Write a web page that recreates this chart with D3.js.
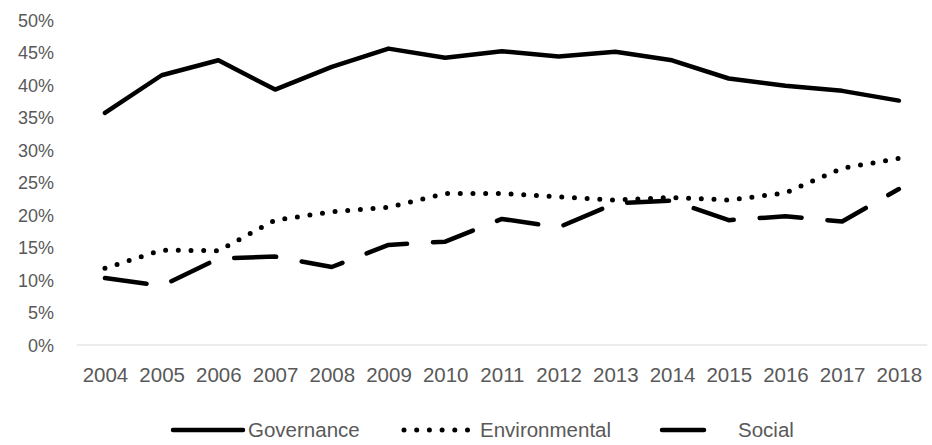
<!DOCTYPE html>
<html>
<head>
<meta charset="utf-8">
<script src="https://cdn.jsdelivr.net/npm/d3@7"></script>
<style>
  html, body { margin: 0; padding: 0; background: #fff; }
  svg { display: block; }
  text { font-family: "Liberation Sans", Arial, sans-serif; fill: #595959; }
</style>
</head>
<body>
<svg id="chart" width="932" height="445"></svg>
<script>
const years = ["2004","2005","2006","2007","2008","2009","2010","2011","2012","2013","2014","2015","2016","2017","2018"];
const governance =    [0.357,0.415,0.438,0.393,0.428,0.456,0.442,0.452,0.444,0.451,0.438,0.410,0.399,0.391,0.376];
const environmental = [0.118,0.146,0.145,0.192,0.205,0.212,0.233,0.233,0.228,0.223,0.227,0.223,0.234,0.272,0.287];
const social =        [0.103,0.091,0.133,0.136,0.120,0.154,0.159,0.194,0.181,0.218,0.222,0.192,0.198,0.190,0.240];
const yTicks = [0,0.05,0.10,0.15,0.20,0.25,0.30,0.35,0.40,0.45,0.50];
const seriesNames = ["Governance","Environmental","Social"];

const svg = d3.select("#chart");
const x = d3.scalePoint().domain(years).range([76.6, 927.2]).padding(0.5);
const y = d3.scaleLinear().domain([0, 0.5]).range([345, 20]);

// y tick labels
const yAxis = d3.axisLeft(y).tickValues(yTicks).tickFormat(d3.format(".0%")).tickSize(0).tickPadding(0);
const gy = svg.append("g").attr("transform", "translate(54,0)").call(yAxis);
gy.select(".domain").remove();
gy.selectAll("text").attr("font-size", 18).attr("fill", "#595959")
  .attr("font-family", "Liberation Sans, Arial, sans-serif").attr("dy", "0.35em");

// baseline
svg.append("line").attr("x1", 76.6).attr("x2", 927.2).attr("y1", y(0)).attr("y2", y(0))
  .attr("stroke", "#d9d9d9").attr("stroke-width", 1);

// x labels
const xAxis = d3.axisBottom(x).tickSize(0).tickPadding(0);
const gx = svg.append("g").attr("transform", "translate(0,367)").call(xAxis);
gx.select(".domain").remove();
gx.selectAll("text").attr("font-size", 20.5).attr("fill", "#595959")
  .attr("font-family", "Liberation Sans, Arial, sans-serif").attr("dy", "0.71em");

const styles = {
  "Governance": {dash: null},
  "Environmental": {dash: "0 12.7", width: 5},
  "Social": {dash: "42 26"}
};
const data = {"Governance": governance, "Environmental": environmental, "Social": social};

const line = d3.line().x((d, i) => x(years[i])).y(d => y(d));
seriesNames.forEach(name => {
  const st = styles[name];
  svg.append("path").datum(data[name])
    .attr("d", line)
    .attr("fill", "none")
    .attr("stroke", "#000")
    .attr("stroke-width", st.width || 4.5)
    .attr("stroke-linecap", "round")
    .attr("stroke-linejoin", "round")
    .attr("stroke-dasharray", st.dash);
});

// legend
const legendItems = [
  {name: "Governance", x1: 173, x2: 243, tx: 248},
  {name: "Environmental", x1: 404, x2: 474, tx: 480},
  {name: "Social", x1: 662, x2: 708, tx: 738}
];
legendItems.forEach(li => {
  const st = styles[li.name];
  svg.append("line").attr("x1", li.x1).attr("x2", li.x2).attr("y1", 430).attr("y2", 430)
    .attr("stroke", "#000").attr("stroke-width", st.width || 4.5)
    .attr("stroke-linecap", "round").attr("stroke-dasharray", st.dash);
  svg.append("text").attr("x", li.tx).attr("y", 437).attr("font-size", 20.5)
    .attr("fill", "#595959").text(li.name);
});
</script>
</body>
</html>
